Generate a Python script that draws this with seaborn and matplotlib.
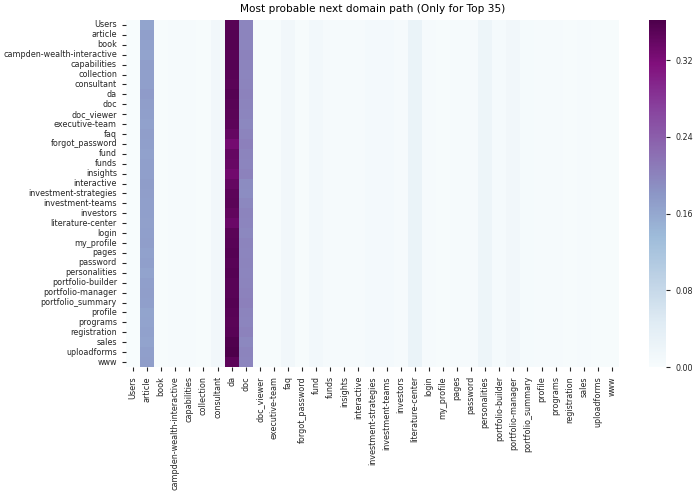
import numpy as np
import pandas as pd
import matplotlib
matplotlib.use("Agg")
import matplotlib.pyplot as plt
import seaborn as sns

pages = ["Users", "article", "book", "campden-wealth-interactive", "capabilities",
         "collection", "consultant", "da", "doc", "doc_viewer", "executive-team",
         "faq", "forgot_password", "fund", "funds", "insights", "interactive",
         "investment-strategies", "investment-teams", "investors", "literature-center",
         "login", "my_profile", "pages", "password", "personalities",
         "portfolio-builder", "portfolio-manager", "portfolio_summary", "profile",
         "programs", "registration", "sales", "uploadforms", "www"]

# next-page probability per source row, for the three dominant targets
article = [0.165, 0.170, 0.168, 0.166, 0.172, 0.170, 0.171, 0.174, 0.172, 0.170,
           0.168, 0.172, 0.170, 0.168, 0.171, 0.170, 0.173, 0.172, 0.171, 0.170,
           0.169, 0.170, 0.172, 0.168, 0.170, 0.166, 0.170, 0.172, 0.170, 0.165,
           0.166, 0.168, 0.166, 0.170, 0.172]
da = [0.352, 0.354, 0.356, 0.352, 0.354, 0.352, 0.350, 0.354, 0.352, 0.350,
      0.348, 0.342, 0.328, 0.342, 0.338, 0.330, 0.342, 0.348, 0.350, 0.344,
      0.336, 0.350, 0.352, 0.354, 0.352, 0.354, 0.352, 0.352, 0.354, 0.352,
      0.350, 0.352, 0.358, 0.362, 0.348]
doc = [0.198, 0.200, 0.198, 0.202, 0.200, 0.198, 0.200, 0.202, 0.200, 0.198,
       0.196, 0.200, 0.204, 0.200, 0.198, 0.202, 0.192, 0.190, 0.196, 0.200,
       0.198, 0.196, 0.200, 0.198, 0.200, 0.198, 0.200, 0.202, 0.205, 0.200,
       0.198, 0.202, 0.196, 0.200, 0.198]

# typical level of the faint target columns (same for every source row)
faint = {"Users": 0.0, "book": 0.003, "campden-wealth-interactive": 0.005,
         "capabilities": 0.005, "collection": 0.004, "consultant": 0.013,
         "doc_viewer": 0.004, "executive-team": 0.004, "faq": 0.014,
         "forgot_password": 0.004, "fund": 0.011, "funds": 0.005, "insights": 0.005,
         "interactive": 0.005, "investment-strategies": 0.008,
         "investment-teams": 0.008, "investors": 0.005, "literature-center": 0.026,
         "login": 0.005, "my_profile": 0.004, "pages": 0.005, "password": 0.005,
         "personalities": 0.020, "portfolio-builder": 0.006,
         "portfolio-manager": 0.013, "portfolio_summary": 0.006, "profile": 0.005,
         "programs": 0.005, "registration": 0.004, "sales": 0.005,
         "uploadforms": 0.004, "www": 0.003}

cols = {}
for p in pages:
    if p == "article":
        cols[p] = article
    elif p == "da":
        cols[p] = da
    elif p == "doc":
        cols[p] = doc
    else:
        cols[p] = [faint[p]] * len(pages)
df = pd.DataFrame(cols, index=pages)[pages]

fig = plt.figure(figsize=(6.95, 4.94), dpi=100)
ax = fig.add_axes([126 / 695, 127 / 494, 493 / 695, 347 / 494])
cax = fig.add_axes([649 / 695, 127 / 494, 17 / 695, 347 / 494])

sns.heatmap(df, ax=ax, cbar_ax=cax, cmap="BuPu", xticklabels=True, yticklabels=True)
ax.set_title("Most probable next domain path (Only for Top 35)", fontsize=7.6)
ax.tick_params(labelsize=5.8, length=3, colors="#262626")
cax.tick_params(labelsize=5.8, length=3, colors="#262626")
for lab in ax.get_xticklabels():
    lab.set_rotation(90)
for lab in ax.get_yticklabels():
    lab.set_rotation(0)
cax.yaxis.set_major_locator(matplotlib.ticker.MultipleLocator(0.08))
cax.yaxis.set_major_formatter(matplotlib.ticker.FormatStrFormatter("%.2f"))

fig.savefig("out.png", dpi=100)
